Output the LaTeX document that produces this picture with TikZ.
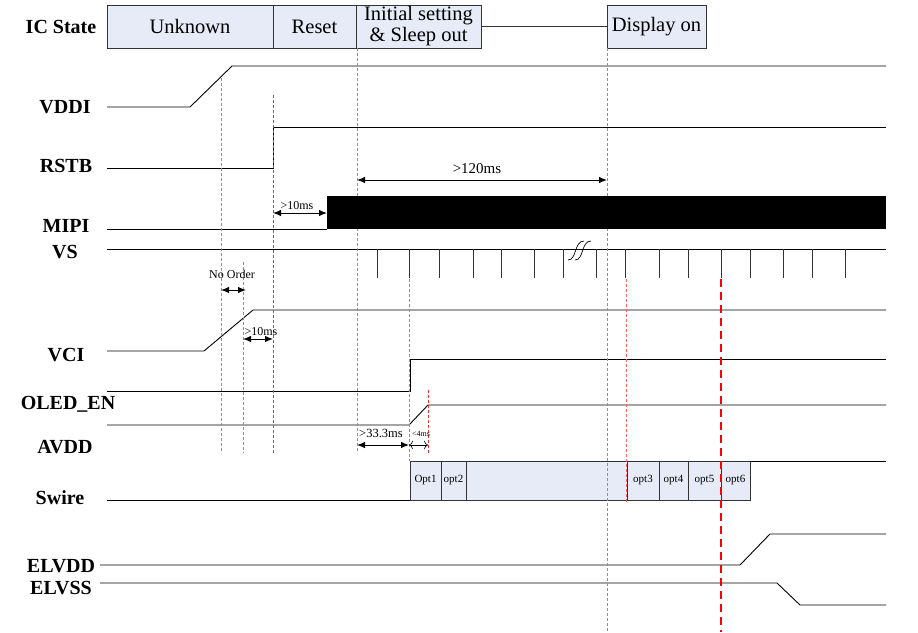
\documentclass[tikz,border=0pt]{standalone}
\usepackage{fontspec}
\setmainfont{Liberation Serif}
\usetikzlibrary{positioning, arrows.meta}

\definecolor{statefill}{RGB}{230,235,247}
\definecolor{guidered}{RGB}{255,95,95}
\definecolor{guidedark}{RGB}{230,50,50}

\tikzset{
    sigline/.style={line width=0.9pt},
    statebox/.style={draw=black!80, line width=1pt, fill=statefill, minimum height=43pt,
        inner sep=0pt, outer sep=0pt, font=\fontsize{20.5}{21}\selectfont},
    optbox/.style={draw=black!80, line width=0.9pt, fill=statefill, minimum height=39pt,
        inner sep=0pt, outer sep=0pt, font=\fontsize{11}{12}\selectfont},
    siglabel/.style={font=\bfseries\fontsize{20}{22}\selectfont, anchor=base, inner sep=0pt},
    guide/.style={draw=guidered, dash pattern=on 3pt off 2pt, line width=0.8pt},
    timing/.style={{Latex[length=8pt,width=6.5pt]}-{Latex[length=8pt,width=6.5pt]}, line width=1pt},
    timelabel/.style={anchor=base, inner sep=0pt}
}

\begin{document}
\begin{tikzpicture}[x=1pt,y=-1pt]
    \useasboundingbox (0,0) rectangle (918,632);

    % IC state row
    \node[siglabel] (lic) at (61,33) {IC State};
    \node[statebox, minimum width=166pt] (unknown) at (190,26.5) {Unknown};
    \node[statebox, minimum width=83pt, right=0pt of unknown] (reset) {Reset};
    \node[statebox, minimum width=125pt, right=0pt of reset, align=center] (init) {Initial setting\\\& Sleep out};
    \node[statebox, minimum width=99pt] (disp) at (656.5,26.5) {Display on};
    \draw[line width=0.9pt, black!80] (init.east) -- (disp.west);

    % VDDI
    \node[siglabel] (lvddi) at (65,113) {VDDI};
    \draw[sigline] (107,107) -- (190,107) -- (232,66) -- (886,66);

    % RSTB
    \node[siglabel] (lrstb) at (66,172) {RSTB};
    \draw[sigline] (107,168) -- (273,168) -- (273,127) -- (886,127);

    % MIPI (low part, block drawn later)
    \node[siglabel] (lmipi) at (66,232) {MIPI};
    \draw[sigline] (107,229) -- (327,229);

    % VS with ticks and break
    \node[siglabel] (lvs) at (65,258) {VS};
    \draw[sigline] (107,249) -- (886,249);
    \draw[line width=0.9pt, black!80] (377,249) -- (377,278) (409,249) -- (409,278) (439,249) -- (439,278)
        (473,249) -- (473,278) (501,249) -- (501,278) (534,249) -- (534,278) (563,249) -- (563,278)
        (596,249) -- (596,278) (625,249) -- (625,278) (659,249) -- (659,278) (688,249) -- (688,278)
        (721,249) -- (721,278) (750,249) -- (750,278) (783,249) -- (783,278) (812,249) -- (812,278)
        (845,249) -- (845,278);
    \draw[line width=0.7pt] (568,260) .. controls (577,260) and (574,241) .. (584,241);
    \draw[line width=0.7pt] (575,260) .. controls (584,260) and (581,241) .. (591,241);

    % VCI
    \node[siglabel] (lvci) at (66,361) {VCI};
    \draw[sigline] (107,351) -- (204,351) -- (253,310) -- (886,310);

    % OLED_EN
    \node[siglabel] (loled) at (68,409) {OLED\_EN};
    \draw[sigline] (107,391) -- (410,391) -- (410,359) -- (886,359);

    % AVDD
    \node[siglabel] (lavdd) at (65,453) {AVDD};
    \draw[sigline] (107,425) -- (409,425) -- (428,405) -- (886,405);

    % Swire with option boxes
    \node[siglabel] (lswire) at (60,504) {Swire};
    \draw[sigline] (107,500) -- (410,500);
    \node[optbox, minimum width=31pt] (opt1) at (425.5,480.5) {Opt1};
    \node[optbox, minimum width=25pt, right=0pt of opt1] (opt2) {opt2};
    \node[optbox, minimum width=161pt, right=0pt of opt2] (optgap) {};
    \node[optbox, minimum width=32pt, right=0pt of optgap] (opt3) {opt3};
    \node[optbox, minimum width=29pt, right=0pt of opt3] (opt4) {opt4};
    \node[optbox, minimum width=33pt, right=0pt of opt4] (opt5) {opt5};
    \node[optbox, minimum width=29pt, right=0pt of opt5] (opt6) {opt6};
    \draw[sigline] (opt6.north east) -- (886,461);

    % ELVDD and ELVSS
    \node[siglabel] (lelvdd) at (61,572) {ELVDD};
    \draw[sigline] (100,565) -- (740,565) -- (770,534) -- (886,534);
    \node[siglabel] (lelvss) at (61,594) {ELVSS};
    \draw[sigline] (100,583) -- (777,583) -- (800,605) -- (886,605);

    % Guide lines
    \draw[guide] (221,78) -- (221,453);
    \draw[guide] (243,262) -- (243,453);
    \draw[guide, draw=guidedark] (273,95) -- (273,453);
    \draw[guide] (357,48) -- (357,453);
    \draw[guide] (409,279) -- (409,461);
    \draw[guide, draw=guidedark] (428,390) -- (428,453);
    \draw[guide] (607,48) -- (607,632);
    \draw[guide] (626,279) -- (626,503);

    % MIPI data block
    \fill[black] (327,196) rectangle (886,229);

    % Timing arrows
    \draw[timing] (357,180) -- (607,180);
    \node[timelabel, font=\fontsize{15}{16}\selectfont] (t120) at (477,173) {>120ms};
    \draw[timing] (273,213) -- (327,213);
    \node[timelabel, font=\fontsize{12}{13}\selectfont] (t10a) at (297,209) {>10ms};
    \draw[timing] (221,290) -- (246,290);
    \node[timelabel, font=\fontsize{12}{13}\selectfont] (tno) at (232,278) {No Order};
    \draw[timing] (243,339) -- (273,339);
    \node[timelabel, font=\fontsize{12}{13}\selectfont] (t10b) at (261,335) {>10ms};
    \draw[timing] (357,445) -- (409,445);
    \node[timelabel, font=\fontsize{12.5}{13}\selectfont] (t33) at (381,437) {>33.3ms};
    \draw[{To[length=4pt]}-{To[length=4pt]}, line width=0.6pt] (409,445) -- (428,445);
    \node[timelabel, font=\fontsize{8}{9}\selectfont] (t4) at (421,436) {<4ms};

    % Display on marker
    \draw[red, line width=1.3pt, dash pattern=on 8pt off 5pt] (721,279) -- (721,632);
\end{tikzpicture}
\end{document}
